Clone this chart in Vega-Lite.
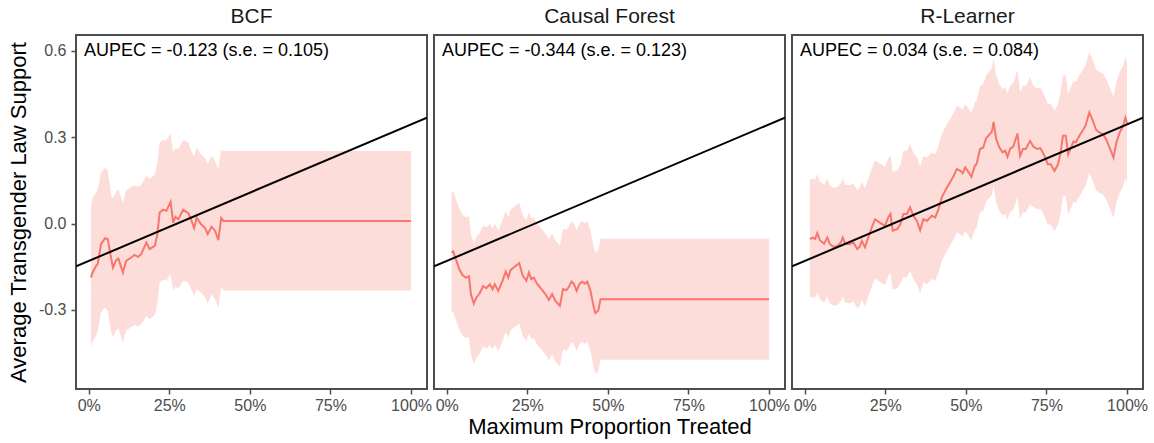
{
  "$schema": "https://vega.github.io/schema/vega-lite/v6.json",
  "background": "white",
  "padding": {"left": 6, "top": 5, "right": 5, "bottom": 5},
  "bounds": "flush",
  "spacing": 7,
  "config": {
    "font": "Liberation Sans",
    "view": {"stroke": "#4D4D4D", "strokeWidth": 2},
    "title": {"fontSize": 21, "fontWeight": "normal", "color": "#1A1A1A", "offset": 8, "font": "Liberation Sans"},
    "axis": {
      "grid": false, "domain": false,
      "labelFont": "Liberation Sans", "labelFontSize": 16, "labelColor": "#4D4D4D",
      "tickColor": "#4D4D4D", "tickSize": 5, "tickWidth": 1.5,
      "titleFont": "Liberation Sans", "titleFontSize": 22, "titleFontWeight": "normal", "titleColor": "#000000",
      "labelFlush": false, "labelOverlap": false
    },
    "axisX": {"labelPadding": 3, "titlePadding": 3},
    "axisY": {"labelPadding": 5, "titlePadding": 8}
  },
  "datasets": {
    "refline": [{"x": -0.0395, "y": -0.149}, {"x": 1.0495, "y": 0.368}],
    "bcf": [
      {"x": 0.007, "y": -0.188, "hi": 0.056, "lo": -0.431},
      {"x": 0.012, "y": -0.170, "hi": 0.090, "lo": -0.410},
      {"x": 0.023, "y": -0.147, "hi": 0.108, "lo": -0.390},
      {"x": 0.028, "y": -0.140, "hi": 0.120, "lo": -0.373},
      {"x": 0.038, "y": -0.072, "hi": 0.175, "lo": -0.309},
      {"x": 0.051, "y": -0.051, "hi": 0.195, "lo": -0.292},
      {"x": 0.059, "y": -0.054, "hi": 0.183, "lo": -0.303},
      {"x": 0.070, "y": -0.124, "hi": 0.096, "lo": -0.379},
      {"x": 0.075, "y": -0.153, "hi": 0.088, "lo": -0.395},
      {"x": 0.085, "y": -0.127, "hi": 0.110, "lo": -0.372},
      {"x": 0.092, "y": -0.122, "hi": 0.118, "lo": -0.365},
      {"x": 0.106, "y": -0.170, "hi": 0.073, "lo": -0.414},
      {"x": 0.116, "y": -0.130, "hi": 0.114, "lo": -0.373},
      {"x": 0.132, "y": -0.118, "hi": 0.128, "lo": -0.360},
      {"x": 0.142, "y": -0.109, "hi": 0.133, "lo": -0.352},
      {"x": 0.153, "y": -0.116, "hi": 0.128, "lo": -0.358},
      {"x": 0.163, "y": -0.106, "hi": 0.135, "lo": -0.350},
      {"x": 0.179, "y": -0.066, "hi": 0.166, "lo": -0.321},
      {"x": 0.189, "y": -0.089, "hi": 0.155, "lo": -0.333},
      {"x": 0.205, "y": -0.078, "hi": 0.170, "lo": -0.318},
      {"x": 0.213, "y": -0.037, "hi": 0.210, "lo": -0.280},
      {"x": 0.220, "y": 0.038, "hi": 0.282, "lo": -0.205},
      {"x": 0.231, "y": 0.048, "hi": 0.290, "lo": -0.195},
      {"x": 0.241, "y": 0.044, "hi": 0.288, "lo": -0.198},
      {"x": 0.254, "y": 0.075, "hi": 0.313, "lo": -0.176},
      {"x": 0.262, "y": 0.003, "hi": 0.247, "lo": -0.234},
      {"x": 0.269, "y": 0.023, "hi": 0.262, "lo": -0.220},
      {"x": 0.278, "y": 0.015, "hi": 0.258, "lo": -0.226},
      {"x": 0.293, "y": 0.048, "hi": 0.290, "lo": -0.199},
      {"x": 0.309, "y": 0.036, "hi": 0.282, "lo": -0.205},
      {"x": 0.319, "y": 0.009, "hi": 0.250, "lo": -0.232},
      {"x": 0.327, "y": -0.016, "hi": 0.235, "lo": -0.251},
      {"x": 0.335, "y": 0.021, "hi": 0.264, "lo": -0.228},
      {"x": 0.348, "y": -0.002, "hi": 0.241, "lo": -0.240},
      {"x": 0.361, "y": -0.016, "hi": 0.228, "lo": -0.255},
      {"x": 0.369, "y": -0.037, "hi": 0.208, "lo": -0.278},
      {"x": 0.381, "y": -0.011, "hi": 0.235, "lo": -0.246},
      {"x": 0.392, "y": -0.025, "hi": 0.218, "lo": -0.263},
      {"x": 0.402, "y": -0.058, "hi": 0.189, "lo": -0.292},
      {"x": 0.411, "y": 0.019, "hi": 0.255, "lo": -0.222},
      {"x": 0.418, "y": 0.009, "hi": 0.252, "lo": -0.233},
      {"x": 1.000, "y": 0.009, "hi": 0.252, "lo": -0.233}
    ],
    "cf": [
      {"x": 0.015, "y": -0.101, "hi": 0.109, "lo": -0.311},
      {"x": 0.020, "y": -0.097, "hi": 0.113, "lo": -0.307},
      {"x": 0.030, "y": -0.130, "hi": 0.080, "lo": -0.340},
      {"x": 0.039, "y": -0.159, "hi": 0.051, "lo": -0.369},
      {"x": 0.049, "y": -0.179, "hi": 0.031, "lo": -0.389},
      {"x": 0.059, "y": -0.188, "hi": 0.022, "lo": -0.398},
      {"x": 0.069, "y": -0.184, "hi": 0.026, "lo": -0.394},
      {"x": 0.075, "y": -0.245, "hi": -0.035, "lo": -0.455},
      {"x": 0.084, "y": -0.278, "hi": -0.068, "lo": -0.488},
      {"x": 0.092, "y": -0.257, "hi": -0.047, "lo": -0.467},
      {"x": 0.101, "y": -0.245, "hi": -0.035, "lo": -0.455},
      {"x": 0.113, "y": -0.217, "hi": -0.007, "lo": -0.427},
      {"x": 0.123, "y": -0.225, "hi": -0.015, "lo": -0.435},
      {"x": 0.134, "y": -0.211, "hi": -0.001, "lo": -0.421},
      {"x": 0.142, "y": -0.228, "hi": -0.018, "lo": -0.438},
      {"x": 0.149, "y": -0.211, "hi": -0.001, "lo": -0.421},
      {"x": 0.160, "y": -0.234, "hi": -0.024, "lo": -0.444},
      {"x": 0.173, "y": -0.199, "hi": 0.011, "lo": -0.409},
      {"x": 0.183, "y": -0.167, "hi": 0.043, "lo": -0.377},
      {"x": 0.191, "y": -0.188, "hi": 0.022, "lo": -0.398},
      {"x": 0.198, "y": -0.162, "hi": 0.048, "lo": -0.372},
      {"x": 0.214, "y": -0.147, "hi": 0.063, "lo": -0.357},
      {"x": 0.225, "y": -0.138, "hi": 0.072, "lo": -0.348},
      {"x": 0.236, "y": -0.182, "hi": 0.028, "lo": -0.392},
      {"x": 0.247, "y": -0.199, "hi": 0.011, "lo": -0.409},
      {"x": 0.255, "y": -0.170, "hi": 0.040, "lo": -0.380},
      {"x": 0.262, "y": -0.193, "hi": 0.017, "lo": -0.403},
      {"x": 0.270, "y": -0.188, "hi": 0.022, "lo": -0.398},
      {"x": 0.281, "y": -0.211, "hi": -0.001, "lo": -0.421},
      {"x": 0.294, "y": -0.228, "hi": -0.018, "lo": -0.438},
      {"x": 0.306, "y": -0.245, "hi": -0.035, "lo": -0.455},
      {"x": 0.317, "y": -0.266, "hi": -0.056, "lo": -0.476},
      {"x": 0.327, "y": -0.245, "hi": -0.035, "lo": -0.455},
      {"x": 0.337, "y": -0.269, "hi": -0.059, "lo": -0.479},
      {"x": 0.351, "y": -0.286, "hi": -0.076, "lo": -0.496},
      {"x": 0.361, "y": -0.228, "hi": -0.018, "lo": -0.438},
      {"x": 0.371, "y": -0.232, "hi": -0.022, "lo": -0.442},
      {"x": 0.379, "y": -0.220, "hi": -0.010, "lo": -0.430},
      {"x": 0.387, "y": -0.202, "hi": 0.008, "lo": -0.412},
      {"x": 0.394, "y": -0.209, "hi": 0.001, "lo": -0.419},
      {"x": 0.403, "y": -0.234, "hi": -0.024, "lo": -0.444},
      {"x": 0.412, "y": -0.209, "hi": 0.001, "lo": -0.419},
      {"x": 0.420, "y": -0.202, "hi": 0.008, "lo": -0.412},
      {"x": 0.428, "y": -0.209, "hi": 0.001, "lo": -0.419},
      {"x": 0.436, "y": -0.202, "hi": 0.008, "lo": -0.412},
      {"x": 0.446, "y": -0.234, "hi": -0.024, "lo": -0.444},
      {"x": 0.454, "y": -0.280, "hi": -0.070, "lo": -0.490},
      {"x": 0.461, "y": -0.311, "hi": -0.101, "lo": -0.521},
      {"x": 0.470, "y": -0.303, "hi": -0.093, "lo": -0.513},
      {"x": 0.477, "y": -0.263, "hi": -0.053, "lo": -0.473},
      {"x": 1.000, "y": -0.263, "hi": -0.053, "lo": -0.473}
    ],
    "rl": [
      {"x": 0.016, "y": -0.054, "hi": 0.151, "lo": -0.259},
      {"x": 0.025, "y": -0.049, "hi": 0.156, "lo": -0.254},
      {"x": 0.032, "y": -0.054, "hi": 0.151, "lo": -0.259},
      {"x": 0.039, "y": -0.033, "hi": 0.172, "lo": -0.238},
      {"x": 0.047, "y": -0.058, "hi": 0.147, "lo": -0.263},
      {"x": 0.060, "y": -0.070, "hi": 0.135, "lo": -0.275},
      {"x": 0.070, "y": -0.049, "hi": 0.156, "lo": -0.254},
      {"x": 0.078, "y": -0.072, "hi": 0.133, "lo": -0.277},
      {"x": 0.089, "y": -0.081, "hi": 0.124, "lo": -0.286},
      {"x": 0.101, "y": -0.078, "hi": 0.127, "lo": -0.283},
      {"x": 0.112, "y": -0.066, "hi": 0.139, "lo": -0.271},
      {"x": 0.118, "y": -0.049, "hi": 0.156, "lo": -0.254},
      {"x": 0.125, "y": -0.070, "hi": 0.135, "lo": -0.275},
      {"x": 0.138, "y": -0.072, "hi": 0.133, "lo": -0.277},
      {"x": 0.151, "y": -0.066, "hi": 0.139, "lo": -0.271},
      {"x": 0.163, "y": -0.089, "hi": 0.116, "lo": -0.294},
      {"x": 0.171, "y": -0.080, "hi": 0.125, "lo": -0.285},
      {"x": 0.177, "y": -0.060, "hi": 0.145, "lo": -0.265},
      {"x": 0.187, "y": -0.083, "hi": 0.122, "lo": -0.288},
      {"x": 0.197, "y": -0.049, "hi": 0.156, "lo": -0.254},
      {"x": 0.208, "y": -0.014, "hi": 0.191, "lo": -0.219},
      {"x": 0.218, "y": 0.015, "hi": 0.220, "lo": -0.190},
      {"x": 0.233, "y": 0.003, "hi": 0.208, "lo": -0.202},
      {"x": 0.249, "y": -0.008, "hi": 0.197, "lo": -0.213},
      {"x": 0.259, "y": 0.021, "hi": 0.226, "lo": -0.184},
      {"x": 0.266, "y": 0.033, "hi": 0.238, "lo": -0.172},
      {"x": 0.273, "y": -0.025, "hi": 0.180, "lo": -0.230},
      {"x": 0.287, "y": -0.020, "hi": 0.185, "lo": -0.225},
      {"x": 0.297, "y": -0.002, "hi": 0.203, "lo": -0.207},
      {"x": 0.306, "y": 0.033, "hi": 0.253, "lo": -0.187},
      {"x": 0.317, "y": 0.033, "hi": 0.253, "lo": -0.187},
      {"x": 0.327, "y": 0.056, "hi": 0.276, "lo": -0.164},
      {"x": 0.337, "y": 0.027, "hi": 0.247, "lo": -0.193},
      {"x": 0.348, "y": 0.009, "hi": 0.229, "lo": -0.211},
      {"x": 0.358, "y": -0.023, "hi": 0.197, "lo": -0.243},
      {"x": 0.368, "y": 0.015, "hi": 0.235, "lo": -0.205},
      {"x": 0.379, "y": 0.009, "hi": 0.229, "lo": -0.211},
      {"x": 0.394, "y": 0.027, "hi": 0.247, "lo": -0.193},
      {"x": 0.405, "y": 0.021, "hi": 0.241, "lo": -0.199},
      {"x": 0.415, "y": 0.050, "hi": 0.270, "lo": -0.170},
      {"x": 0.425, "y": 0.090, "hi": 0.310, "lo": -0.130},
      {"x": 0.441, "y": 0.125, "hi": 0.345, "lo": -0.095},
      {"x": 0.451, "y": 0.143, "hi": 0.363, "lo": -0.077},
      {"x": 0.462, "y": 0.166, "hi": 0.386, "lo": -0.054},
      {"x": 0.472, "y": 0.189, "hi": 0.409, "lo": -0.031},
      {"x": 0.483, "y": 0.183, "hi": 0.403, "lo": -0.037},
      {"x": 0.490, "y": 0.175, "hi": 0.395, "lo": -0.045},
      {"x": 0.498, "y": 0.195, "hi": 0.415, "lo": -0.025},
      {"x": 0.509, "y": 0.177, "hi": 0.397, "lo": -0.043},
      {"x": 0.517, "y": 0.162, "hi": 0.382, "lo": -0.058},
      {"x": 0.528, "y": 0.201, "hi": 0.421, "lo": -0.019},
      {"x": 0.533, "y": 0.206, "hi": 0.426, "lo": -0.014},
      {"x": 0.544, "y": 0.259, "hi": 0.479, "lo": 0.039},
      {"x": 0.554, "y": 0.264, "hi": 0.484, "lo": 0.044},
      {"x": 0.563, "y": 0.297, "hi": 0.517, "lo": 0.077},
      {"x": 0.570, "y": 0.305, "hi": 0.525, "lo": 0.085},
      {"x": 0.581, "y": 0.320, "hi": 0.540, "lo": 0.100},
      {"x": 0.586, "y": 0.353, "hi": 0.573, "lo": 0.133},
      {"x": 0.594, "y": 0.293, "hi": 0.513, "lo": 0.073},
      {"x": 0.604, "y": 0.264, "hi": 0.484, "lo": 0.044},
      {"x": 0.614, "y": 0.247, "hi": 0.467, "lo": 0.027},
      {"x": 0.622, "y": 0.253, "hi": 0.473, "lo": 0.033},
      {"x": 0.629, "y": 0.232, "hi": 0.452, "lo": 0.012},
      {"x": 0.637, "y": 0.259, "hi": 0.479, "lo": 0.039},
      {"x": 0.647, "y": 0.267, "hi": 0.487, "lo": 0.047},
      {"x": 0.660, "y": 0.313, "hi": 0.533, "lo": 0.093},
      {"x": 0.668, "y": 0.235, "hi": 0.455, "lo": 0.015},
      {"x": 0.677, "y": 0.259, "hi": 0.479, "lo": 0.039},
      {"x": 0.686, "y": 0.259, "hi": 0.479, "lo": 0.039},
      {"x": 0.699, "y": 0.287, "hi": 0.507, "lo": 0.067},
      {"x": 0.710, "y": 0.267, "hi": 0.477, "lo": 0.057},
      {"x": 0.721, "y": 0.259, "hi": 0.469, "lo": 0.049},
      {"x": 0.731, "y": 0.262, "hi": 0.472, "lo": 0.052},
      {"x": 0.744, "y": 0.235, "hi": 0.445, "lo": 0.025},
      {"x": 0.754, "y": 0.206, "hi": 0.416, "lo": -0.004},
      {"x": 0.763, "y": 0.206, "hi": 0.416, "lo": -0.004},
      {"x": 0.775, "y": 0.183, "hi": 0.393, "lo": -0.027},
      {"x": 0.786, "y": 0.206, "hi": 0.416, "lo": -0.004},
      {"x": 0.794, "y": 0.247, "hi": 0.457, "lo": 0.037},
      {"x": 0.801, "y": 0.305, "hi": 0.515, "lo": 0.095},
      {"x": 0.810, "y": 0.305, "hi": 0.515, "lo": 0.095},
      {"x": 0.817, "y": 0.241, "hi": 0.451, "lo": 0.031},
      {"x": 0.826, "y": 0.264, "hi": 0.474, "lo": 0.054},
      {"x": 0.834, "y": 0.285, "hi": 0.495, "lo": 0.075},
      {"x": 0.841, "y": 0.282, "hi": 0.492, "lo": 0.072},
      {"x": 0.852, "y": 0.305, "hi": 0.515, "lo": 0.095},
      {"x": 0.862, "y": 0.322, "hi": 0.532, "lo": 0.112},
      {"x": 0.871, "y": 0.340, "hi": 0.550, "lo": 0.130},
      {"x": 0.883, "y": 0.386, "hi": 0.596, "lo": 0.176},
      {"x": 0.894, "y": 0.357, "hi": 0.567, "lo": 0.147},
      {"x": 0.904, "y": 0.325, "hi": 0.535, "lo": 0.115},
      {"x": 0.915, "y": 0.316, "hi": 0.526, "lo": 0.106},
      {"x": 0.925, "y": 0.311, "hi": 0.521, "lo": 0.101},
      {"x": 0.935, "y": 0.293, "hi": 0.503, "lo": 0.083},
      {"x": 0.946, "y": 0.264, "hi": 0.474, "lo": 0.054},
      {"x": 0.958, "y": 0.229, "hi": 0.439, "lo": 0.019},
      {"x": 0.967, "y": 0.282, "hi": 0.492, "lo": 0.072},
      {"x": 0.977, "y": 0.316, "hi": 0.526, "lo": 0.106},
      {"x": 0.988, "y": 0.340, "hi": 0.550, "lo": 0.130},
      {"x": 0.995, "y": 0.368, "hi": 0.578, "lo": 0.158},
      {"x": 1.000, "y": 0.348, "hi": 0.558, "lo": 0.138}
    ]
  },
  "hconcat": [
    {
      "width": 351, "height": 354,
      "title": "BCF",
      "layer": [
        {"data": {"name": "bcf"}, "mark": {"type": "area", "color": "#F8766D", "opacity": 0.25},
         "encoding": {
           "x": {"field": "x", "type": "quantitative", "scale": {"domain": [-0.0395, 1.0495], "nice": false, "zero": false},
                 "axis": {"values": [0, 0.25, 0.5, 0.75, 1], "format": ".0%", "title": null}},
           "y": {"field": "lo", "type": "quantitative", "scale": {"domain": [-0.575, 0.655], "nice": false, "zero": false},
                 "axis": {"values": [-0.3, 0, 0.3, 0.6], "labelExpr": "datum.value < 0 ? '-' + format(-datum.value, '.1f') : format(datum.value, '.1f')", "title": "Average Transgender Law Support"}},
           "y2": {"field": "hi"}}},
        {"data": {"name": "bcf"}, "mark": {"type": "line", "color": "#F8766D", "strokeWidth": 2},
         "encoding": {"x": {"field": "x", "type": "quantitative", "title": null}, "y": {"field": "y", "type": "quantitative", "title": "Average Transgender Law Support"}}},
        {"data": {"name": "refline"}, "mark": {"type": "line", "color": "#000000", "strokeWidth": 2, "clip": true},
         "encoding": {"x": {"field": "x", "type": "quantitative", "title": null}, "y": {"field": "y", "type": "quantitative", "title": "Average Transgender Law Support"}}},
        {"data": {"values": [{"label": "AUPEC = -0.123 (s.e. = 0.105)"}]},
         "mark": {"type": "text", "align": "left", "baseline": "middle", "fontSize": 18, "fill": "#000000", "font": "Liberation Sans"},
         "encoding": {"x": {"datum": -0.015}, "y": {"datum": 0.6}, "text": {"field": "label", "type": "nominal"}}}
      ]
    },
    {
      "width": 351, "height": 354,
      "title": "Causal Forest",
      "layer": [
        {"data": {"name": "cf"}, "mark": {"type": "area", "color": "#F8766D", "opacity": 0.25},
         "encoding": {
           "x": {"field": "x", "type": "quantitative", "scale": {"domain": [-0.0395, 1.0495], "nice": false, "zero": false},
                 "axis": {"values": [0, 0.25, 0.5, 0.75, 1], "format": ".0%", "title": "Maximum Proportion Treated"}},
           "y": {"field": "lo", "type": "quantitative", "scale": {"domain": [-0.575, 0.655], "nice": false, "zero": false}, "axis": null},
           "y2": {"field": "hi"}}},
        {"data": {"name": "cf"}, "mark": {"type": "line", "color": "#F8766D", "strokeWidth": 2},
         "encoding": {"x": {"field": "x", "type": "quantitative", "title": "Maximum Proportion Treated"}, "y": {"field": "y", "type": "quantitative", "axis": null}}},
        {"data": {"name": "refline"}, "mark": {"type": "line", "color": "#000000", "strokeWidth": 2, "clip": true},
         "encoding": {"x": {"field": "x", "type": "quantitative", "title": "Maximum Proportion Treated"}, "y": {"field": "y", "type": "quantitative", "axis": null}}},
        {"data": {"values": [{"label": "AUPEC = -0.344 (s.e. = 0.123)"}]},
         "mark": {"type": "text", "align": "left", "baseline": "middle", "fontSize": 18, "fill": "#000000", "font": "Liberation Sans"},
         "encoding": {"x": {"datum": -0.015}, "y": {"datum": 0.6}, "text": {"field": "label", "type": "nominal"}}}
      ]
    },
    {
      "width": 351, "height": 354,
      "title": "R-Learner",
      "layer": [
        {"data": {"name": "rl"}, "mark": {"type": "area", "color": "#F8766D", "opacity": 0.25},
         "encoding": {
           "x": {"field": "x", "type": "quantitative", "scale": {"domain": [-0.0395, 1.0495], "nice": false, "zero": false},
                 "axis": {"values": [0, 0.25, 0.5, 0.75, 1], "format": ".0%", "title": null}},
           "y": {"field": "lo", "type": "quantitative", "scale": {"domain": [-0.575, 0.655], "nice": false, "zero": false}, "axis": null},
           "y2": {"field": "hi"}}},
        {"data": {"name": "rl"}, "mark": {"type": "line", "color": "#F8766D", "strokeWidth": 2},
         "encoding": {"x": {"field": "x", "type": "quantitative", "title": null}, "y": {"field": "y", "type": "quantitative", "axis": null}}},
        {"data": {"name": "refline"}, "mark": {"type": "line", "color": "#000000", "strokeWidth": 2, "clip": true},
         "encoding": {"x": {"field": "x", "type": "quantitative", "title": null}, "y": {"field": "y", "type": "quantitative", "axis": null}}},
        {"data": {"values": [{"label": "AUPEC = 0.034 (s.e. = 0.084)"}]},
         "mark": {"type": "text", "align": "left", "baseline": "middle", "fontSize": 18, "fill": "#000000", "font": "Liberation Sans"},
         "encoding": {"x": {"datum": -0.015}, "y": {"datum": 0.6}, "text": {"field": "label", "type": "nominal"}}}
      ]
    }
  ]
}
